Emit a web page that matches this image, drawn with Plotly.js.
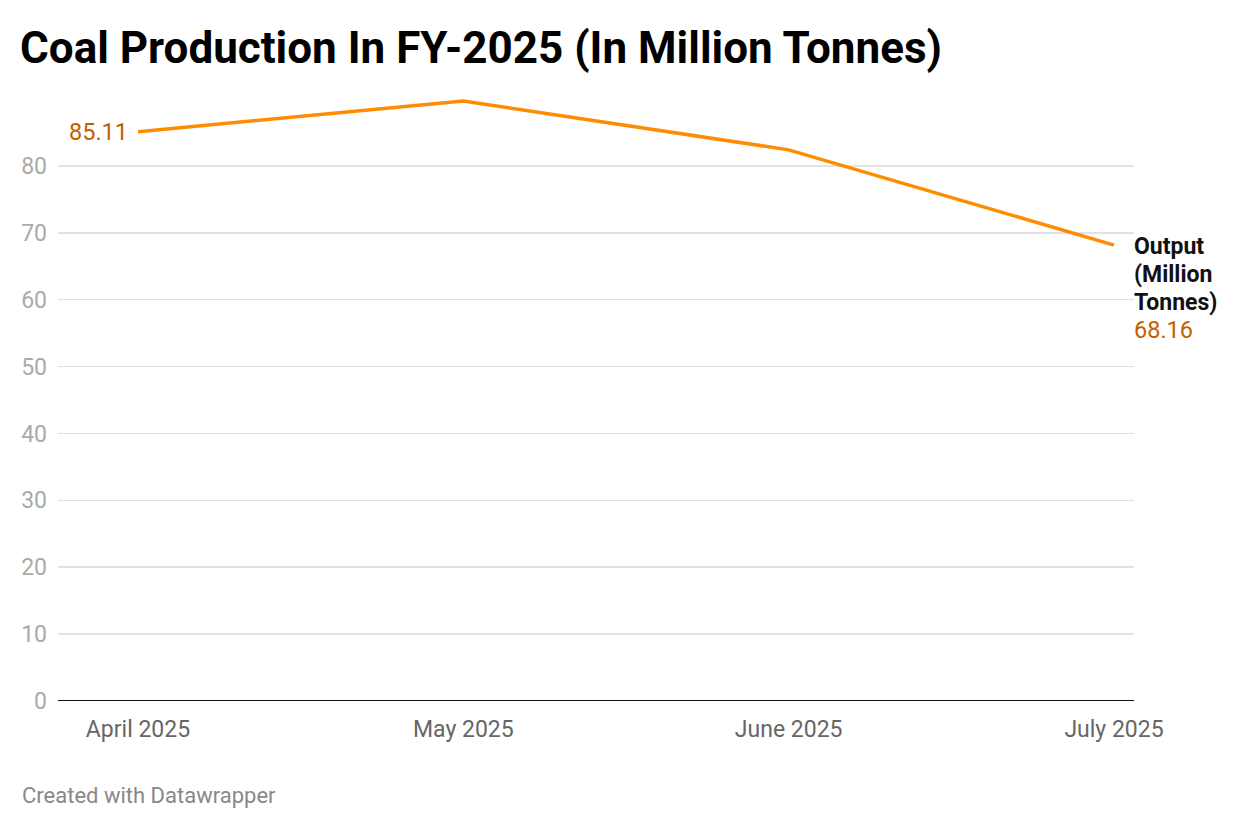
<!DOCTYPE html>
<html>
<head>
<meta charset="utf-8">
<script src="https://cdn.plot.ly/plotly-3.0.1.min.js"></script>
<style>
html,body{margin:0;padding:0;background:#fff;}
#chart{width:1240px;height:828px;}
</style>
</head>
<body>
<div id="chart"></div>
<script>
const months = ["April 2025", "May 2025", "June 2025", "July 2025"];
const output = [85.11, 89.7, 82.4, 68.16];
const yTicks = [0, 10, 20, 30, 40, 50, 60, 70, 80];
const seriesNameLines = ["Output", "(Million", "Tonnes)"];

const xIdx = months.map((m, i) => i);

const trace = {
  x: xIdx,
  y: output,
  type: "scatter",
  mode: "lines",
  line: {color: "#ff8c00", width: 3.5},
  cliponaxis: false,
  hoverinfo: "skip"
};

const plotW = 1240 - 58 - 106, plotH = 828 - 99 - 127;

const annotations = [
  {
    x: 0, y: output[0], xref: "x", yref: "y",
    text: String(output[0]), showarrow: false,
    xanchor: "right", yanchor: "middle", xshift: -8,
    font: {size: 23.5, color: "#c45f00"}
  }
];
seriesNameLines.forEach((t, i) => {
  annotations.push({
    x: 3, y: output[3], xref: "x", yref: "y",
    text: "<b>" + t + "</b>", showarrow: false,
    xanchor: "left", yanchor: "middle", xshift: 18, yshift: -1 - 28 * i,
    font: {size: 23, color: "#111"}
  });
});
annotations.push({
  x: 3, y: output[3], xref: "x", yref: "y",
  text: String(output[3]), showarrow: false,
  xanchor: "left", yanchor: "middle", xshift: 18, yshift: -85,
  font: {size: 23.5, color: "#c45f00"}
});
annotations.push({
  x: (20 - 58) / plotW, y: (828 - 127 - 795) / plotH, xref: "paper", yref: "paper",
  text: "Created with Datawrapper", showarrow: false,
  xanchor: "left", yanchor: "middle",
  font: {size: 22, color: "#888"}
});

const layout = {
  width: 1240,
  height: 828,
  margin: {l: 58, r: 106, t: 99, b: 127},
  paper_bgcolor: "#fff",
  plot_bgcolor: "#fff",
  showlegend: false,
  font: {family: "Roboto, sans-serif"},
  title: {
    text: "<b>Coal Production In FY-2025 (In Million Tonnes)</b>",
    x: 20 / 1240, xref: "container", xanchor: "left",
    y: 0.943, yref: "container", yanchor: "middle",
    font: {family: "Roboto, sans-serif", size: 44, color: "#000"}
  },
  xaxis: {
    range: [-80/325.33, 3 + 20/325.33],
    tickvals: xIdx,
    ticktext: months,
    showgrid: false,
    zeroline: false,
    showline: false,
    ticks: "",
    ticklabelstandoff: 12,
    tickfont: {size: 23, color: "#666"},
    fixedrange: true
  },
  yaxis: {
    range: [0, 90],
    tickvals: yTicks,
    showgrid: true,
    gridcolor: "#e2e2e2",
    gridwidth: 1.5,
    zeroline: false,
    showline: false,
    ticks: "",
    ticklabelstandoff: 10,
    tickfont: {size: 23, color: "#aaa"},
    fixedrange: true
  },
  shapes: [{
    type: "line", xref: "paper", yref: "y",
    x0: 0, x1: 1, y0: 0, y1: 0,
    line: {color: "#111", width: 2}
  }],
  annotations: annotations
};

Plotly.newPlot("chart", [trace], layout, {displayModeBar: false, staticPlot: true});
</script>
</body>
</html>
